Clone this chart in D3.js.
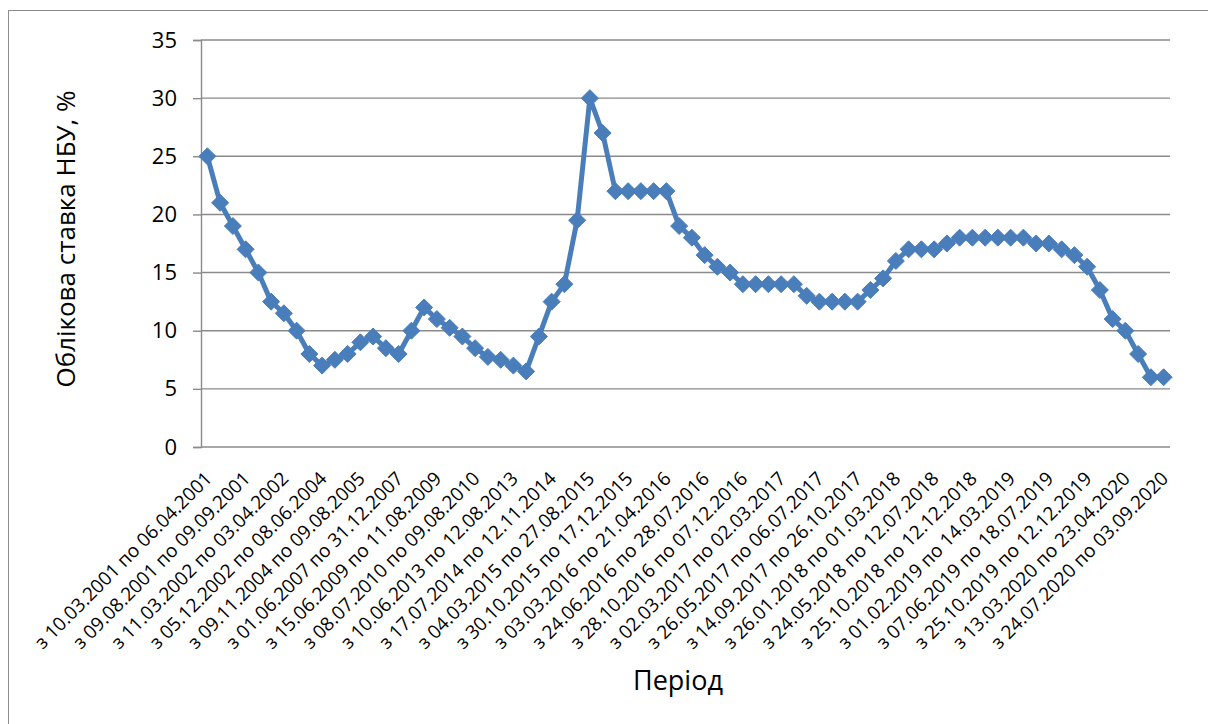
<!DOCTYPE html>
<html>
<head>
<meta charset="utf-8">
<script src="https://cdn.jsdelivr.net/npm/d3@7"></script>
<style>
  html, body { margin: 0; padding: 0; background: #fff; }
  svg { display: block; }
  text { font-family: "Open Sans", "Noto Sans", sans-serif; fill: #000; }
</style>
</head>
<body>
<svg id="chart" width="1208" height="724"></svg>
<script>
// ---- Data ----
// Discount rate of the NBU (%) per period, 76 periods
const values = [
  25, 21, 19, 17, 15, 12.5, 11.5, 10, 8, 7,
  7.5, 8, 9, 9.5, 8.5, 8, 10, 12, 11, 10.25,
  9.5, 8.5, 7.75, 7.5, 7, 6.5, 9.5, 12.5, 14, 19.5,
  30, 27, 22, 22, 22, 22, 22, 19, 18, 16.5,
  15.5, 15, 14, 14, 14, 14, 14, 13, 12.5, 12.5,
  12.5, 12.5, 13.5, 14.5, 16, 17, 17, 17, 17.5, 18,
  18, 18, 18, 18, 18, 17.5, 17.5, 17, 16.5, 15.5,
  13.5, 11, 10, 8, 6, 6
];
// Category labels shown on the axis (every 3rd period)
const tickLabels = [
  "з 10.03.2001 по 06.04.2001",
  "з 09.08.2001 по 09.09.2001",
  "з 11.03.2002 по 03.04.2002",
  "з 05.12.2002 по 08.06.2004",
  "з 09.11.2004 по 09.08.2005",
  "з 01.06.2007 по 31.12.2007",
  "з 15.06.2009 по 11.08.2009",
  "з 08.07.2010 по 09.08.2010",
  "з 10.06.2013 по 12.08.2013",
  "з 17.07.2014 по 12.11.2014",
  "з 04.03.2015 по 27.08.2015",
  "з 30.10.2015 по 17.12.2015",
  "з 03.03.2016 по 21.04.2016",
  "з 24.06.2016 по 28.07.2016",
  "з 28.10.2016 по 07.12.2016",
  "з 02.03.2017 по 02.03.2017",
  "з 26.05.2017 по 06.07.2017",
  "з 14.09.2017 по 26.10.2017",
  "з 26.01.2018 по 01.03.2018",
  "з 24.05.2018 по 12.07.2018",
  "з 25.10.2018 по 12.12.2018",
  "з 01.02.2019 по 14.03.2019",
  "з 07.06.2019 по 18.07.2019",
  "з 25.10.2019 по 12.12.2019",
  "з 13.03.2020 по 23.04.2020",
  "з 24.07.2020 по 03.09.2020"
];
const labelStep = 3;
const yTicks = [0, 5, 10, 15, 20, 25, 30, 35];
const yTitle = "Облікова ставка НБУ, %";
const xTitle = "Період";

// ---- Layout ----
const svg = d3.select("#chart");
const plot = { left: 201, right: 1170, top: 40, bottom: 447 };
const lineColor = "#4a7ebb";
const gridColor = "#8a8a8a";

// outer border (extends past the picture on right/bottom)
svg.append("rect")
  .attr("x", 8.5).attr("y", 10.5)
  .attr("width", 1400).attr("height", 900)
  .attr("fill", "none").attr("stroke", "#8c8c8c").attr("stroke-width", 1);

const idx = d3.range(values.length);
const x = d3.scaleBand().domain(idx).range([plot.left, plot.right]).padding(0);
const cx = i => x(i) + x.bandwidth() / 2;
const y = d3.scaleLinear().domain([0, 35]).range([plot.bottom, plot.top]);

// gridlines
svg.append("g").selectAll("line").data(yTicks.filter(t => t > 0)).join("line")
  .attr("x1", plot.left).attr("x2", plot.right)
  .attr("y1", d => y(d)).attr("y2", d => y(d))
  .attr("stroke", gridColor).attr("stroke-width", 1.4);

// y axis
const yAxis = d3.axisLeft(y).tickValues(yTicks).tickSize(8).tickPadding(16);
const gy = svg.append("g").attr("transform", `translate(${plot.left},0)`).call(yAxis);
gy.select(".domain").attr("stroke", gridColor).attr("stroke-width", 1.4);
gy.selectAll(".tick line").attr("stroke", gridColor).attr("stroke-width", 1.4);
gy.selectAll(".tick text").attr("font-size", 22).attr("font-family", "Open Sans").attr("fill", "#000");

// x axis line
svg.append("line")
  .attr("x1", plot.left).attr("x2", plot.right)
  .attr("y1", plot.bottom).attr("y2", plot.bottom)
  .attr("stroke", gridColor).attr("stroke-width", 1.4);

// x tick labels
const labelIdx = idx.filter(i => i % labelStep === 0);
svg.append("g").selectAll("text").data(labelIdx).join("text")
  .attr("transform", i => `translate(${cx(i) + 1},${plot.bottom + 28}) rotate(-45)`)
  .attr("text-anchor", "end")
  .attr("dy", "0.35em")
  .attr("font-size", 19)
  .text(i => tickLabels[i / labelStep]);

// line
const line = d3.line().x((d, i) => cx(i)).y(d => y(d));
svg.append("path").datum(values)
  .attr("d", line)
  .attr("fill", "none").attr("stroke", lineColor)
  .attr("stroke-width", 5).attr("stroke-linejoin", "round");

// diamond markers
const r = 8.5;
svg.append("g").selectAll("path").data(values).join("path")
  .attr("transform", (d, i) => `translate(${cx(i)},${y(d)})`)
  .attr("d", `M0,${-r}L${r},0L0,${r}L${-r},0Z`)
  .attr("fill", lineColor).attr("stroke", lineColor).attr("stroke-width", 1);

// titles
svg.append("text")
  .attr("transform", `translate(75,239) rotate(-90)`)
  .attr("text-anchor", "middle")
  .attr("font-size", 26)
  .text(yTitle);

svg.append("text")
  .attr("x", 678).attr("y", 690)
  .attr("text-anchor", "middle")
  .attr("font-size", 27)
  .text(xTitle);
</script>
</body>
</html>
